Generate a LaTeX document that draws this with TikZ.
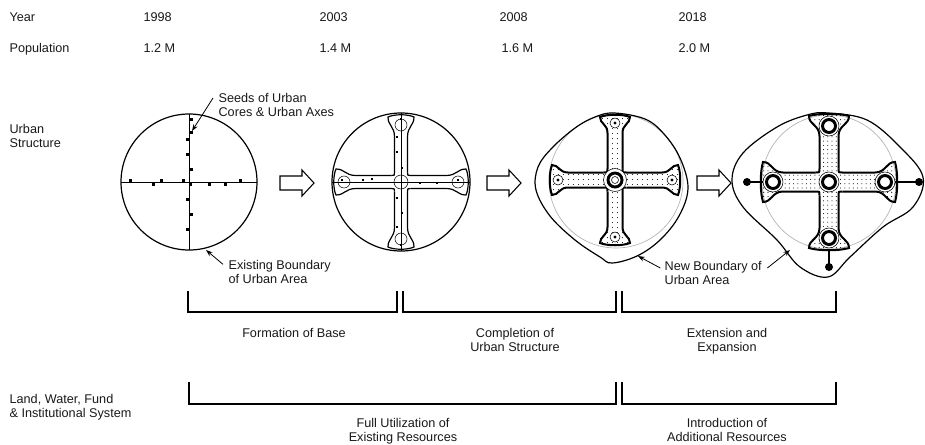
\documentclass[tikz,border=0pt]{standalone}
\usepackage{fontspec}
\setmainfont{Liberation Sans}
\usetikzlibrary{arrows.meta,patterns.meta}

% one arm of an urban cross, pointing along +x
% \aw half width, \aL length, \ak knob half width, \am knob length, \af fillet
\newcommand{\armoutline}{(\aw,-\aw-\af) .. controls (\aw,-\aw) .. (\aw+\af,-\aw)
  -- (\aL-\am,-\aw) .. controls (\aL-0.5*\am,-\aw) and (\aL-0.5*\am,-\ak) .. (\aL-2,-\ak)
  .. controls (\aL+1,-0.5*\ak) and (\aL+1,0.5*\ak) .. (\aL-2,\ak)
  .. controls (\aL-0.5*\am,\ak) and (\aL-0.5*\am,\aw) .. (\aL-\am,\aw)
  -- (\aw+\af,\aw)}

\begin{document}
\begin{tikzpicture}[x=0.75pt,y=0.75pt,yscale=-1,
    every node/.style={font=\fontsize{9.5}{10.5}\selectfont, inner sep=1pt, text=black!90},
    lbl/.style={anchor=base west, align=left},
    phaselabel/.style={anchor=base, align=center},
    leader/.style={-{Stealth[length=5pt,width=3.6pt]}, line width=0.6pt},
    bound/.style={line width=0.9pt},
    oldbound/.style={gray!60, line width=0.5pt},
    bracket/.style={line width=0.9pt},
    hollow/.style={line width=0.8pt, line join=miter}]
\useasboundingbox (0,0) rectangle (925,444);

% header rows (multi-line labels sit on their last baseline)
\node (year) [lbl] at (8,21) {Year};
\node (y1998) [lbl] at (142,21) {1998};
\node (y2003) [lbl] at (318,21) {2003};
\node (y2008) [lbl] at (498,21) {2008};
\node (y2018) [lbl] at (677,21) {2018};
\node (pop) [lbl] at (8,52) {Population};
\node (p1998) [lbl] at (142,52) {1.2 M};
\node (p2003) [lbl] at (318,52) {1.4 M};
\node (p2008) [lbl] at (500,52) {1.6 M};
\node (p2018) [lbl] at (677,52) {2.0 M};
\node (struct) [lbl] at (8,147) {Urban\\Structure};
\node (land) [lbl] at (8,417) {Land, Water, Fund\\\& Institutional System};

% stage 1: seeds on the two axes
\draw[bound] (189,182) circle[radius=68];
\draw (189,114) -- (189,250);
\draw (121,182) -- (257,182);
\foreach \x/\y in {191/119,191/132,187/139,187/154,191/169,190/184,187/199,191/214,187/229,
                   130/180,153/184,161/180,183/180,209/184,225/184,240/180}
  \fill (\x-1.5,\y-1.5) rectangle (\x+1.5,\y+1.5);
\node (seeds) [lbl] at (217,116) {Seeds of Urban\\Cores \& Urban Axes};
\node (oldb) [lbl] at (227,283) {Existing Boundary\\of Urban Area};
\coordinate (seedtip) at (192,131);
\coordinate (oldtip) at (206,250);
% y runs downwards here, so a negative yshift lifts the tail
\draw[leader] ([xshift=-3pt,yshift=-13.5pt]seeds.base west) -- (seedtip);
\draw[leader] ([xshift=-3pt,yshift=-14pt]oldb.base west) -- (oldtip);

% stage 2: cross formed
\draw[bound] (401,182) circle[radius=69];
\draw (332,182) -- (470,182);
\draw (401,113) -- (401,251);
\begin{scope}[shift={(401,182)}]
  \def\aw{6.5}\def\aL{67}\def\ak{13}\def\am{22}\def\af{3}
  \foreach \a in {0,90,180,270} {
    \draw[rotate=\a, line width=0.9pt] \armoutline;
    \draw[rotate=\a] (\aL-10,0) circle[radius=6];
  }
  \filldraw[fill=white] (0,0) circle[radius=7];
  \draw (-7,0) -- (7,0) (0,-7) -- (0,7);
\end{scope}
\foreach \x/\y in {401/119,397/137,397/152,402/168,397/198,402/213,397/227,401/245,
                   342/180,363/180,372/179,420/183,437/183,458/180}
  \fill (\x-1.2,\y-1.2) rectangle (\x+1.2,\y+1.2);

% stage 3: cross completed, boundary grows
\draw[oldbound] (616,181) circle[radius=67];
\draw[bound] plot[smooth cycle, tension=0.6] coordinates {(614,113) (645,119) (664,134) (680,158)
  (688,188) (679,216) (660,240) (637,256) (612,263) (600,257) (575,240) (550,216) (536,190)
  (538,167) (552,148) (575,128) (595,117)};
\begin{scope}[shift={(615,180)}]
  \def\aw{7.5}\def\aL{65}\def\ak{15}\def\am{18}\def\af{4}
  \foreach \a in {0,90,180,270} {
    \fill[rotate=\a, pattern={Dots[distance=4pt,radius=0.4pt]}] \armoutline -- (0,0) -- cycle;
    \draw[rotate=\a, line width=1.5pt] \armoutline;
    \filldraw[rotate=\a, fill=white] (\aL-8,0) circle[radius=5];
    \fill[rotate=\a] (\aL-8,0) circle[radius=1.6];
  }
  \filldraw[fill=white] (0,0) circle[radius=11.5];
  \draw[line width=2.2pt] (0,0) circle[radius=7];
  \draw (0,0) circle[radius=3.5];
\end{scope}
\node (newb) [lbl] at (663,284) {New Boundary of\\Urban Area};
\coordinate (newtip3) at (638,256);
\coordinate (newtip4) at (790,250);
\draw[leader] ([xshift=-2pt,yshift=-12pt]newb.base west) -- (newtip3);
\draw[leader] ([xshift=3pt,yshift=-12pt]newb.base east) -- (newtip4);

% stage 4: extension with outer cores
\draw[oldbound] (829,182) circle[radius=67];
\draw[bound] plot[smooth cycle, tension=0.6] coordinates {(828,113) (867,120) (900,147) (923,177)
  (913,207) (883,227) (850,257) (828,277) (800,267) (777,240) (743,207) (732,180) (743,153)
  (777,127) (807,115)};
\draw[line width=0.9pt] (747,182) -- (764,182) (894,182) -- (919,182) (829,249) -- (829,267);
\foreach \p in {(747,182),(919,182),(829,267)}
  \fill \p circle[radius=4];
\begin{scope}[shift={(829,182)}]
  \def\aw{9.5}\def\aL{68}\def\ak{20}\def\am{22}\def\af{4}
  \foreach \a in {0,90,180,270} {
    \fill[rotate=\a, pattern={Dots[distance=3.2pt,radius=0.4pt]}] \armoutline -- (0,0) -- cycle;
    \draw[rotate=\a, line width=1.5pt] \armoutline;
  }
  \foreach \p in {(0,0),(56,0),(-56,0),(0,56),(0,-56)} {
    \filldraw[fill=white] \p circle[radius=10];
    \draw[line width=2.2pt] \p circle[radius=6.5];
  }
\end{scope}

% hollow arrows between stages
\foreach \x in {280,487,697}
  \draw[hollow] (\x,176) -- (\x+22,176) -- (\x+22,170) -- (\x+34,183) -- (\x+22,196)
    -- (\x+22,190) -- (\x,190) -- cycle;

% phases of structure
\draw[bracket] (188,291) -- (188,312) -- (397,312) -- (397,291);
\draw[bracket] (403,291) -- (403,312) -- (616,312) -- (616,291);
\draw[bracket] (622,291) -- (622,312) -- (836,312) -- (836,291);
\node (base) [phaselabel] at (294,337) {Formation of Base};
\node (compl) [phaselabel] at (515,351) {Completion of\\Urban Structure};
\node (ext) [phaselabel] at (727,351) {Extension and\\Expansion};

% phases of resources
\draw[bracket] (189,382) -- (189,404) -- (616,404) -- (616,382);
\draw[bracket] (622,382) -- (622,404) -- (836,404) -- (836,382);
\node (fullres) [phaselabel] at (403,441) {Full Utilization of\\Existing Resources};
\node (addres) [phaselabel] at (727,441) {Introduction of\\Additional Resources};
\end{tikzpicture}
\end{document}
